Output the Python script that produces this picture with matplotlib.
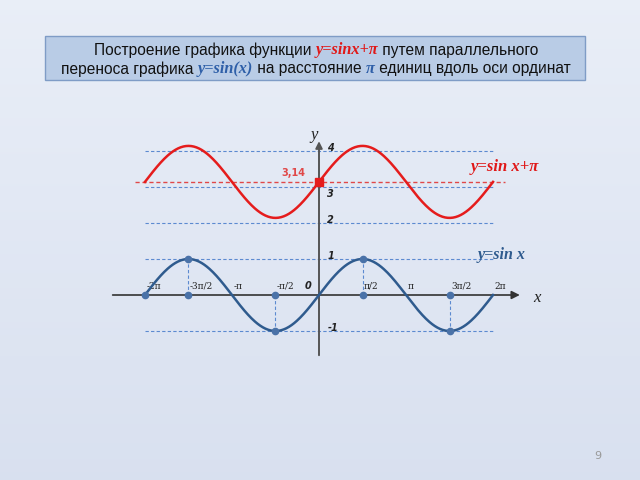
import numpy as np
import matplotlib
matplotlib.use("Agg")
import matplotlib.pyplot as plt
from matplotlib.patches import Rectangle

# ------------------ DATA ------------------
x_ticks = [-2 * np.pi, -1.5 * np.pi, -np.pi, -0.5 * np.pi, 0.5 * np.pi, np.pi, 1.5 * np.pi, 2 * np.pi]
x_tick_labels = ["-2π", "-3π/2", "-π", "-π/2", "π/2", "π", "3π/2", "2π"]
y_ticks = [4, 3, 2, 1, -1]
y_tick_labels = ["4", "3", "2", "1", "-1"]
axis_dots = [-2 * np.pi, -1.5 * np.pi, -0.5 * np.pi, 0.5 * np.pi, 1.5 * np.pi]
guide_x = [-1.5 * np.pi, -0.5 * np.pi, 0.5 * np.pi, 1.5 * np.pi]
shift = np.pi
shift_label = "3,14"

title_line1 = [("Построение графика функции ", "plain", "#111111"),
               ("y=sinx+π", "math", "#e01818"),
               (" путем параллельного", "plain", "#111111")]
title_line2 = [("переноса графика ", "plain", "#111111"),
               ("y=sin(x)", "math", "#2e5fa8"),
               (" на расстояние ", "plain", "#111111"),
               ("π", "math", "#2e5fa8"),
               (" единиц вдоль оси ординат", "plain", "#111111")]

RED = "#e51c1c"
BLUE = "#2f5b8e"
DASH_BLUE = "#5c8ad0"

fig = plt.figure(figsize=(6.4, 4.8), dpi=100)

# ------------------ BACKGROUND ------------------
bg = fig.add_axes([0, 0, 1, 1])
grad = np.linspace(0, 1, 256).reshape(-1, 1)
c1 = np.array([0.915, 0.935, 0.970])
c2 = np.array([0.850, 0.880, 0.940])
img = c1 + (c2 - c1) * grad[..., None]
bg.imshow(img, aspect="auto", extent=[0, 1, 0, 1])
bg.set_xlim(0, 1)
bg.set_ylim(0, 1)
bg.axis("off")

# title box
bg.add_patch(Rectangle((45 / 640, 1 - 80 / 480), 540 / 640, 44 / 480,
                       facecolor="#b9cce6", edgecolor="#7f9cc6", lw=1.0))
bg.text(598 / 640, 1 - 456 / 480, "9", fontsize=8, color="#999999", ha="center", va="center")

# ------------------ PLOT AREA ------------------
px_x = 27.7   # pixels per unit x
px_y = 36.0   # pixels per unit y
ox, oy = 319, 295
left_px, right_px, top_px, bot_px = 100, 560, 125, 365
ax = fig.add_axes([left_px / 640, 1 - bot_px / 480, (right_px - left_px) / 640, (bot_px - top_px) / 480])
ax.set_xlim((left_px - ox) / px_x, (right_px - ox) / px_x)
ax.set_ylim((oy - bot_px) / px_y, (oy - top_px) / px_y)
ax.axis("off")
ax.patch.set_alpha(0)

# dashed guide lines
for v in y_ticks:
    ax.plot([-2 * np.pi, 2 * np.pi + 0.08], [v, v], ls=(0, (3, 2)), color=DASH_BLUE, lw=0.8, zorder=1)
ax.plot([-6.65, 6.7], [shift, shift], ls=(0, (3, 2)), color="#e04848", lw=1.0, zorder=2)
for gx in guide_x:
    ax.plot([gx, gx], [0, np.sin(gx)], ls=(0, (3, 2)), color=DASH_BLUE, lw=0.8, zorder=1)

# axes arrows
ax.annotate("", xy=(7.35, 0), xytext=(-7.55, 0),
            arrowprops=dict(arrowstyle="-|>", color="#333333", lw=1.2, mutation_scale=12))
ax.annotate("", xy=(0, 4.35), xytext=(0, -1.75),
            arrowprops=dict(arrowstyle="-|>", color="#555555", lw=1.4, mutation_scale=10))

# curves
xs = np.linspace(-2 * np.pi, 2 * np.pi, 400)
ax.plot(xs, np.sin(xs), color=BLUE, lw=1.8, zorder=4)
ax.plot(xs, np.sin(xs) + shift, color=RED, lw=1.8, zorder=4)

# dots
ax.plot(axis_dots, [0] * len(axis_dots), "o", color="#4a72a8", ms=4.5, zorder=5)
ax.plot(guide_x, np.sin(guide_x), "o", color="#4a72a8", ms=4.5, zorder=5)
ax.plot([0], [shift], "s", color=RED, ms=6, zorder=6)

# tick labels
for v, lab in zip(x_ticks, x_tick_labels):
    ax.text(v + 0.05, 0.12, lab, fontsize=6.5, family="DejaVu Serif", ha="left", va="bottom", color="#222222")
for v, lab in zip(y_ticks, y_tick_labels):
    dy = -0.2 if v == 3 else 0.08   # "3" sits under the red line
    ax.text(0.3, v + dy, lab, fontsize=7, fontweight="bold", style="italic", ha="left", va="center", color="#222222")
ax.text(-0.4, 0.24, "0", fontsize=7, fontweight="bold", style="italic", ha="center", va="center", color="#222222")
ax.text(-0.92, shift + 0.24, shift_label, fontsize=7, fontweight="bold", color="#e04848", ha="center", va="center")

ax.text(-0.18, 4.45, "y", fontsize=12, style="italic", family="Liberation Serif", ha="center", va="center", color="#222222")
ax.text(7.85, -0.08, "x", fontsize=12, style="italic", family="Liberation Serif", ha="center", va="center", color="#222222")
ax.text(6.7, 3.55, "y=sin x+π", fontsize=12, style="italic", fontweight="bold", family="Liberation Serif",
        ha="center", va="center", color="#e01818")
ax.text(6.6, 1.1, "y=sin x", fontsize=11.5, style="italic", fontweight="bold", family="Liberation Serif",
        ha="center", va="center", color=BLUE)


# ------------------ TITLE (mixed styles) ------------------
def rich_line(parts, y_px, size=11.2):
    renderer = fig.canvas.get_renderer()
    texts = []
    widths = []
    for s, kind, col in parts:
        if kind == "math":
            t = fig.text(0, 0, s, fontsize=size + 0.5, family="Liberation Serif", style="italic",
                         fontweight="bold", color=col, va="center")
        else:
            t = fig.text(0, 0, s.replace(" ", "\u00a0"), fontsize=size, family="Liberation Sans", color=col, va="center")
        texts.append(t)
        widths.append(t.get_window_extent(renderer).width)
    total = sum(widths)
    x = 316 - total / 2
    for t, w in zip(texts, widths):
        t.set_position((x / 640, 1 - y_px / 480))
        x += w


rich_line(title_line1, 50)
rich_line(title_line2, 69)

fig.savefig("out.png", dpi=100)
